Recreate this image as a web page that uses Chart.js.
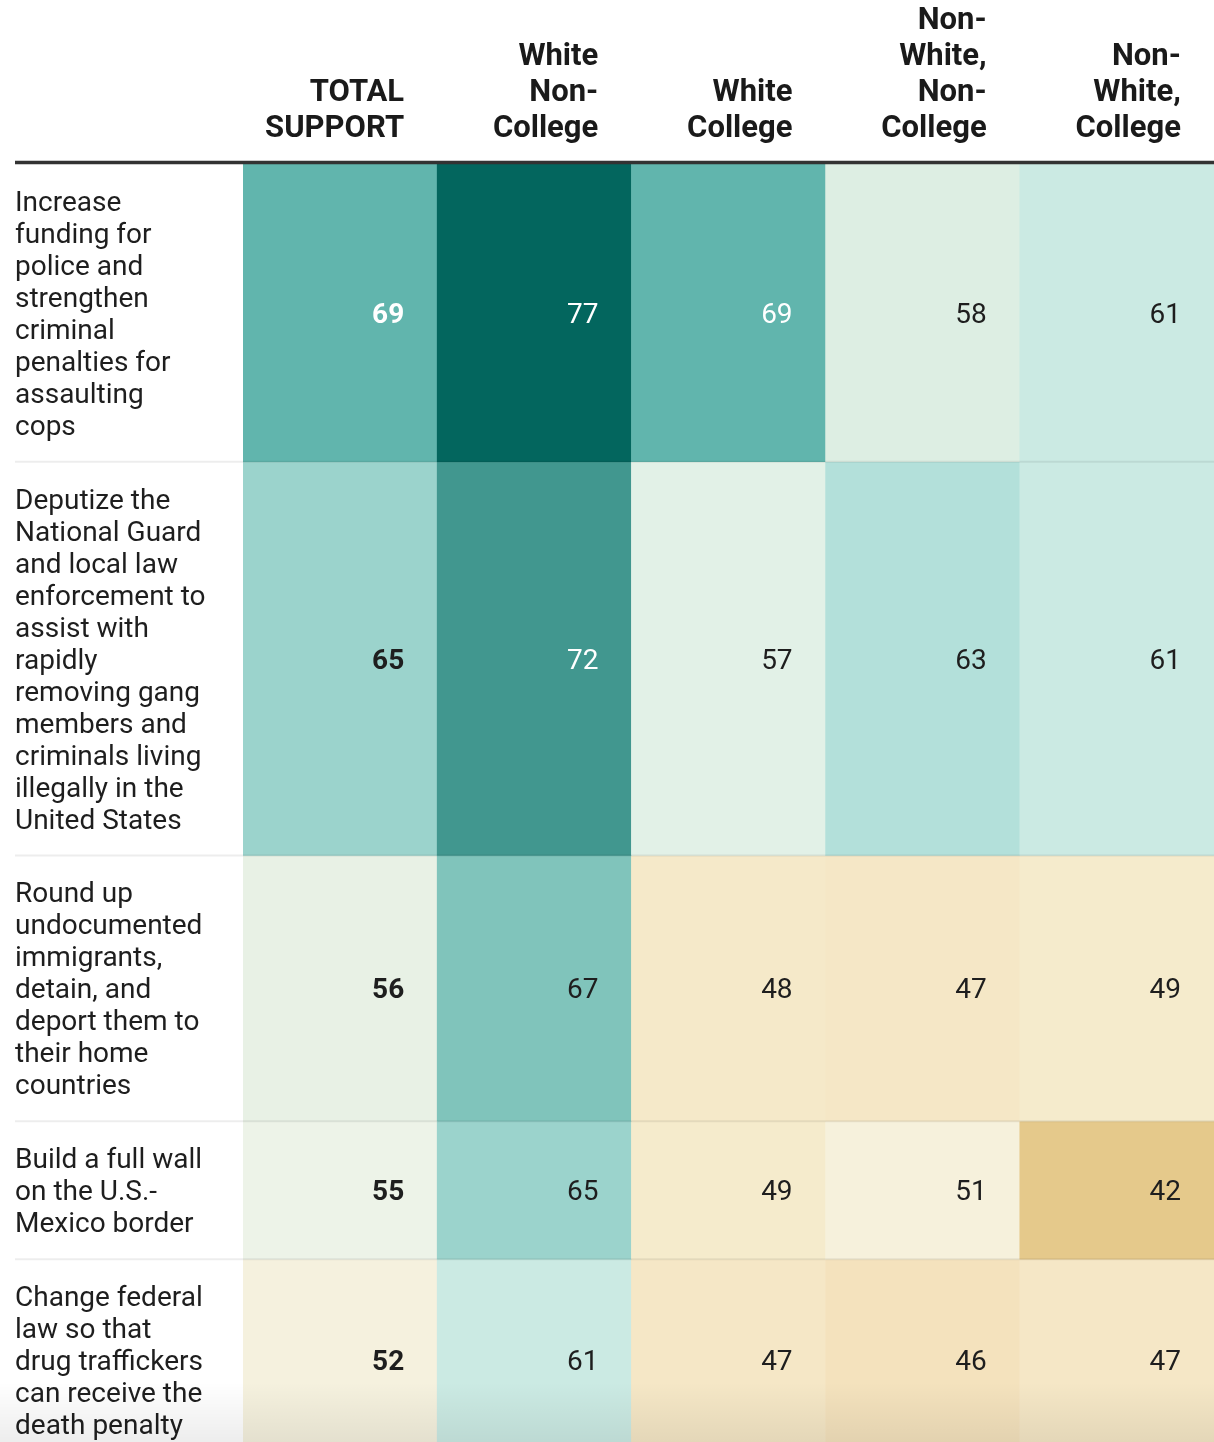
<!DOCTYPE html>
<html lang="en">
<head>
    <meta charset="UTF-8">
    <title>Support by group</title>
    <script src="https://cdn.jsdelivr.net/npm/chart.js@4"></script>
    <style>
        html, body { margin: 0; padding: 0; background: #fff; overflow: hidden; }
        canvas { display: block; }
    </style>
</head>
<body>
    <canvas id="heatmap" width="1214" height="1442"></canvas>
    <script>
        // column headers (one array entry per line)
        const groups = [
            ['TOTAL', 'SUPPORT'],
            ['White', 'Non-', 'College'],
            ['White', 'College'],
            ['Non-', 'White,', 'Non-', 'College'],
            ['Non-', 'White,', 'College']
        ];

        // row labels, already wrapped the way the table shows them
        const policies = [
            ['Increase', 'funding for', 'police and', 'strengthen', 'criminal', 'penalties for', 'assaulting', 'cops'],
            ['Deputize the', 'National Guard', 'and local law', 'enforcement to', 'assist with', 'rapidly', 'removing gang', 'members and', 'criminals living', 'illegally in the', 'United States'],
            ['Round up', 'undocumented', 'immigrants,', 'detain, and', 'deport them to', 'their home', 'countries'],
            ['Build a full wall', 'on the U.S.-', 'Mexico border'],
            ['Change federal', 'law so that', 'drug traffickers', 'can receive the', 'death penalty']
        ];

        // % support, one array per column, in policy order
        const totalSupport       = [69, 65, 56, 55, 52];
        const whiteNonCollege    = [77, 72, 67, 65, 61];
        const whiteCollege       = [69, 57, 48, 49, 47];
        const nonWhiteNonCollege = [58, 63, 47, 51, 46];
        const nonWhiteCollege    = [61, 61, 49, 42, 47];

        const columns = [totalSupport, whiteNonCollege, whiteCollege, nonWhiteNonCollege, nonWhiteCollege];

        // colour scale (brown -> cream -> teal)
        const colorStops = [
            [42, '#e5c98b'], [46, '#f4e2bd'], [47, '#f5e7c6'], [49, '#f5ebcc'],
            [51, '#f6f1dc'], [52, '#f5f1de'], [55, '#edf3e8'], [56, '#e8f1e5'],
            [57, '#e2f1e7'], [58, '#ddeee3'], [61, '#cbeae3'], [63, '#b3e0da'],
            [65, '#9bd3cc'], [67, '#80c4bb'], [69, '#61b5ad'], [72, '#41978f'],
            [77, '#03665e']
        ];

        function hexToRgb(h) {
            return [1, 3, 5].map(i => parseInt(h.substr(i, 2), 16));
        }

        function colorFor(v) {
            if (v <= colorStops[0][0]) return colorStops[0][1];
            for (let i = 1; i < colorStops.length; i++) {
                const [v1, c1] = colorStops[i];
                if (v <= v1) {
                    const [v0, c0] = colorStops[i - 1];
                    const t = (v - v0) / (v1 - v0);
                    const a = hexToRgb(c0), b = hexToRgb(c1);
                    const m = a.map((x, k) => Math.round(x + (b[k] - x) * t));
                    return 'rgb(' + m.join(',') + ')';
                }
            }
            return colorStops[colorStops.length - 1][1];
        }

        // row extents in "text lines": each row is as tall as its label plus some padding
        const ROW_PAD = 1.32;
        const rowStart = [];
        const rowEnd = [];
        let acc = 0;
        policies.forEach(lines => {
            rowStart.push(acc);
            acc += lines.length + ROW_PAD;
            rowEnd.push(acc);
        });
        const rowCenter = rowStart.map((s, i) => (s + rowEnd[i]) / 2);

        const datasets = policies.map((p, r) => ({
            label: p.join(' '),
            data: columns.map(() => [rowStart[r], rowEnd[r]]),
            backgroundColor: columns.map(col => colorFor(col[r])),
            borderWidth: 0,
            grouped: false,
            barPercentage: 1,
            categoryPercentage: 1
        }));

        const cellText = {
            id: 'cellText',
            afterDatasetsDraw(chart) {
                const ctx = chart.ctx;
                const area = chart.chartArea;
                ctx.save();
                // row separators
                ctx.strokeStyle = 'rgba(0,0,0,0.07)';
                ctx.lineWidth = 2;
                for (let r = 1; r < policies.length; r++) {
                    const y = chart.scales.y.getPixelForValue(rowStart[r]);
                    ctx.beginPath();
                    ctx.moveTo(15, y);
                    ctx.lineTo(area.right, y);
                    ctx.stroke();
                }
                // values
                ctx.textAlign = 'right';
                ctx.textBaseline = 'middle';
                chart.data.datasets.forEach((ds, r) => {
                    const meta = chart.getDatasetMeta(r);
                    meta.data.forEach((bar, c) => {
                        const v = columns[c][r];
                        ctx.font = (c === 0 ? 'bold ' : '') + '28px Roboto';
                        ctx.fillStyle = v >= 69 ? '#ffffff' : '#1e1e1e';
                        ctx.fillText(v, bar.x + bar.width / 2 - 33, (bar.y + bar.base) / 2 + 3);
                    });
                });
                // header rule
                ctx.strokeStyle = '#333333';
                ctx.lineWidth = 3.5;
                ctx.beginPath();
                ctx.moveTo(15, area.top - 1.5);
                ctx.lineTo(area.right, area.top - 1.5);
                ctx.stroke();
                // soft shadow at the cut-off bottom
                const g = ctx.createLinearGradient(0, area.bottom - 60, 0, area.bottom);
                g.addColorStop(0, 'rgba(0,0,0,0)');
                g.addColorStop(1, 'rgba(0,0,0,0.07)');
                ctx.fillStyle = g;
                ctx.fillRect(0, area.bottom - 60, chart.width, 60);
                ctx.restore();
            }
        };

        new Chart(document.getElementById('heatmap'), {
            type: 'bar',
            data: {
                labels: groups,
                datasets: datasets
            },
            options: {
                responsive: false,
                animation: false,
                layout: { padding: { left: 15, right: 0, top: 0, bottom: 0 } },
                plugins: {
                    legend: { display: false },
                    tooltip: { enabled: false }
                },
                scales: {
                    x: {
                        position: 'top',
                        grid: { display: false, drawTicks: false },
                        border: { display: false },
                        ticks: {
                            align: 'end',
                            labelOffset: 64,
                            padding: 17,
                            color: '#1a1a1a',
                            font: { family: 'Roboto', size: 31, weight: 'bold', lineHeight: 36 / 31 }
                        },
                        afterFit(scale) {
                            scale.height = 164;
                            scale.paddingLeft = 0;
                            scale.paddingRight = 0;
                        }
                    },
                    y: {
                        reverse: true,
                        min: 0,
                        max: 40,
                        grid: { display: false, drawTicks: false },
                        border: { display: false },
                        afterBuildTicks(scale) {
                            scale.ticks = rowCenter.map(v => ({ value: v }));
                        },
                        ticks: {
                            crossAlign: 'far',
                            padding: 0,
                            labelOffset: 3,
                            autoSkip: false,
                            color: '#1e1e1e',
                            font: { family: 'Roboto', size: 28, lineHeight: 32 / 28 },
                            callback: function(value, index) {
                                return policies[index];
                            }
                        },
                        afterFit(scale) {
                            scale.width = 228;
                            scale.paddingTop = 0;
                            scale.paddingBottom = 0;
                        }
                    }
                }
            },
            plugins: [cellText]
        });
    </script>
</body>
</html>
